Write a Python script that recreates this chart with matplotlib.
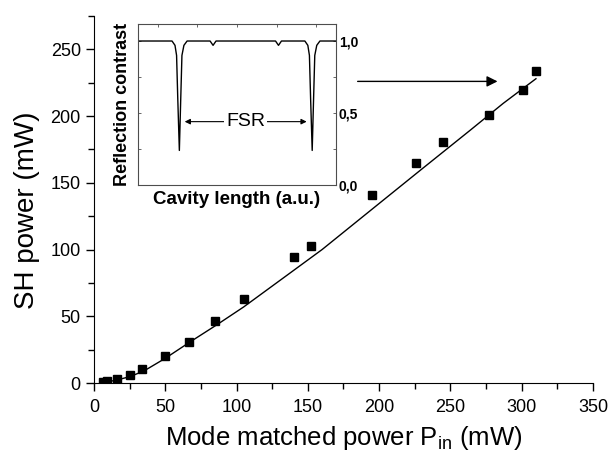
import numpy as np
import matplotlib
matplotlib.use("Agg")
import matplotlib.pyplot as plt
from matplotlib.ticker import MultipleLocator, FixedLocator

plt.rcParams['font.family'] = ['Liberation Sans', 'DejaVu Sans']
plt.rcParams['mathtext.fontset'] = 'custom'
plt.rcParams['mathtext.rm'] = 'Liberation Sans'

# measured SH power vs mode matched pump power
p_in = [6, 9, 16, 25, 34, 50, 67, 85, 105, 140, 152, 195, 226, 245, 277, 301, 310]
p_sh = [1, 1.5, 2.7, 6, 10.2, 20.2, 30.5, 46.6, 63, 94.3, 103, 140.5, 165, 180.6, 200.6, 219.3, 233.5]

# fitted curve
fit_x = [5, 15, 25, 35, 50, 67, 86, 105, 137, 160, 200, 229, 264, 287, 310]
fit_y = [0, 2, 4.7, 9, 18.5, 30.5, 43.5, 57, 82, 100, 134.5, 159.5, 189.5, 209.5, 228]

# inset: reflection trace vs cavity length (a.u.)
trace_x = [0, 17.3, 18.8, 19.6, 20.2, 21.0, 21.7, 22.3, 23.3, 24.9,
           36.5, 38, 39.5, 69.5, 71, 72.5,
           84.3, 85.8, 86.6, 87.2, 88.0, 88.7, 89.3, 90.3, 91.9, 100]
trace_y = [1.0, 1.0, 0.97, 0.90, 0.60, 0.24, 0.60, 0.90, 0.97, 1.0,
           1.0, 0.97, 1.0, 1.0, 0.97, 1.0,
           1.0, 0.97, 0.90, 0.60, 0.24, 0.60, 0.90, 0.97, 1.0, 1.0]
inset_yticks = [0.0, 0.5, 1.0]
inset_yticklabels = ['0,0', '0,5', '1,0']

fig = plt.figure(figsize=(6.11, 4.57), dpi=100)

# main axes
ax = fig.add_axes([0.1538, 0.1619, 0.8167, 0.8031])
ax.plot(fit_x, fit_y, color='k', lw=1.0)
ax.plot(p_in, p_sh, 's', color='k', markersize=6)
ax.set_xlim(0, 350)
ax.set_ylim(0, 275)
ax.spines['top'].set_visible(False)
ax.spines['right'].set_visible(False)
ax.xaxis.set_major_locator(MultipleLocator(50))
ax.xaxis.set_minor_locator(MultipleLocator(25))
ax.yaxis.set_major_locator(MultipleLocator(50))
ax.yaxis.set_minor_locator(MultipleLocator(25))
ax.tick_params(which='major', direction='out', length=5.5, width=1, labelsize=13, pad=4)
ax.tick_params(axis='x', which='major', pad=6)
ax.tick_params(which='minor', direction='out', length=4, width=1)
ax.set_xlabel(r'Mode matched power P$_{\rm in}$ (mW)', fontsize=18.5, labelpad=6)
ax.set_ylabel('SH power (mW)', fontsize=20)
ax.yaxis.set_label_coords(-0.108, 0.47)

ax.annotate('', xy=(285, 226), xytext=(183, 226),
            arrowprops=dict(arrowstyle='-|>', color='k', lw=1, mutation_scale=16))

# inset
ins = fig.add_axes([0.2254, 0.5952, 0.3245, 0.3516])
ins.plot(trace_x, trace_y, color='k', lw=1.0)
ins.set_xlim(0, 100)
ins.set_ylim(0, 1.116)
for sp in ins.spines.values():
    sp.set_color('0.3')
    sp.set_linewidth(0.8)
ins.xaxis.set_ticks_position('top')
ins.xaxis.set_major_locator(FixedLocator([10, 30, 50, 70, 90]))
ins.tick_params(axis='x', direction='in', length=2.5, width=0.6, colors='0.3', labeltop=False)
ins.yaxis.set_ticks_position('both')
ins.yaxis.set_major_locator(FixedLocator(inset_yticks))
ins.yaxis.set_minor_locator(FixedLocator([0.25, 0.75]))
ins.set_yticklabels(inset_yticklabels)
ins.tick_params(axis='y', which='both', direction='in', length=2.5, width=0.6,
                color='0.3', labelleft=False, labelright=True, labelsize=10, pad=2)
for lab in ins.get_yticklabels():
    lab.set_fontweight('bold')
ins.set_xlabel('Cavity length (a.u.)', fontsize=13.5, fontweight='bold', labelpad=4)
ins.set_ylabel('Reflection contrast', fontsize=13, fontweight='bold', labelpad=5)

ins.annotate('', xy=(22.3, 0.44), xytext=(86.6, 0.44),
             arrowprops=dict(arrowstyle='<|-|>', color='k', lw=0.8, mutation_scale=8))
ins.text(54.5, 0.44, 'FSR', fontsize=14, ha='center', va='center',
         bbox=dict(facecolor='white', edgecolor='none', pad=1.5))

fig.savefig('out.png', dpi=100)
